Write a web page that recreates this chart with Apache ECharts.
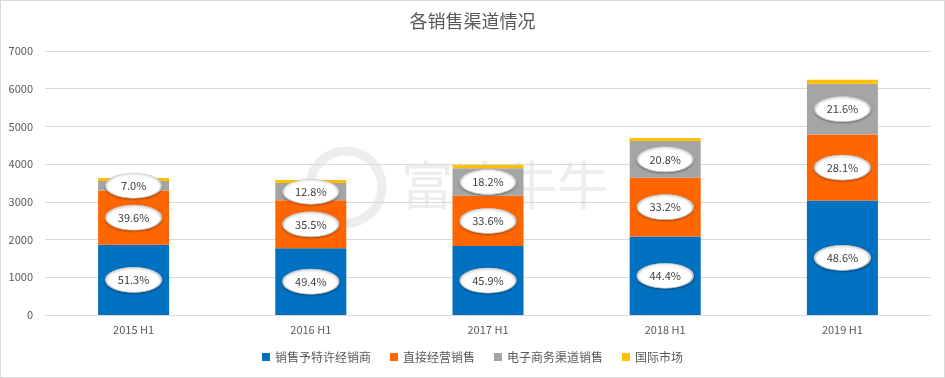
<!DOCTYPE html>
<html>
<head>
<meta charset="utf-8">
<script src="https://cdn.jsdelivr.net/npm/echarts@6/dist/echarts.min.js"></script>
<style>
  html, body { margin: 0; padding: 0; background: #fff; }
  #chart { width: 943px; height: 376px; border: 1px solid #d9d9d9; }
</style>
</head>
<body>
<div id="chart"></div>
<script>
// 数据
var categories = ['2015 H1', '2016 H1', '2017 H1', '2018 H1', '2019 H1'];
var seriesNames = ['销售予特许经销商', '直接经营销售', '电子商务渠道销售', '国际市场'];
var dealer = [1863, 1769, 1827, 2082, 3033];
var direct = [1438, 1271, 1337, 1557, 1753];
var ecommerce = [254, 458, 724, 976, 1348];
var intl = [77, 82, 92, 75, 106];
var dealerPct = ['51.3%', '49.4%', '45.9%', '44.4%', '48.6%'];
var directPct = ['39.6%', '35.5%', '33.6%', '33.2%', '28.1%'];
var ecomPct = ['7.0%', '12.8%', '18.2%', '20.8%', '21.6%'];
var yTicks = [0, 1000, 2000, 3000, 4000, 5000, 6000, 7000];

var colors = ['#0070C0', '#FF6600', '#A5A5A5', '#FFC000'];
var font = '"Noto Sans CJK SC", "Noto Sans", sans-serif';

// 椭圆标签放在每段的中间
var callouts = [];
for (var i = 0; i < categories.length; i++) {
  var a = dealer[i], b = direct[i], c = ecommerce[i];
  callouts.push({ value: [i, a / 2], pct: dealerPct[i] });
  callouts.push({ value: [i, a + b / 2], pct: directPct[i] });
  callouts.push({ value: [i, a + b + c / 2], pct: ecomPct[i] });
}

var chart = echarts.init(document.getElementById('chart'));
var option = {
  animation: false,
  color: colors,
  textStyle: { fontFamily: font },
  title: {
    text: '各销售渠道情况',
    left: 'center',
    top: 6,
    textStyle: { fontSize: 18, fontWeight: 'normal', color: '#595959', fontFamily: font }
  },
  graphic: [
    { type: 'circle', shape: { cx: 345, cy: 186, r: 36 }, style: { fill: 'none', stroke: '#ededed', lineWidth: 9 }, z: 0, silent: true },
    { type: 'text', left: 400, top: 158, style: { text: '富途牛牛', font: '52px "Noto Sans CJK SC"', fill: '#ededed' }, z: 0, silent: true }
  ],
  legend: {
    data: seriesNames,
    bottom: 9,
    left: 'center',
    icon: 'rect',
    itemWidth: 8,
    itemHeight: 8,
    itemGap: 19,
    textStyle: { fontSize: 12, color: '#595959' }
  },
  grid: { left: 44, right: 13, top: 50, bottom: 62 },
  xAxis: {
    type: 'category',
    data: categories,
    axisLine: { lineStyle: { color: '#d9d9d9' } },
    axisTick: { show: false },
    axisLabel: { color: '#595959', fontSize: 11, margin: 9 }
  },
  yAxis: {
    type: 'value',
    min: yTicks[0],
    max: yTicks[yTicks.length - 1],
    interval: 1000,
    axisLine: { show: false },
    axisTick: { show: false },
    axisLabel: { color: '#595959', fontSize: 11, margin: 12, formatter: function (v) { return String(v); } },
    splitLine: { lineStyle: { color: '#d9d9d9' } }
  },
  series: [
    { name: seriesNames[0], type: 'bar', stack: 'total', barWidth: 71, data: dealer },
    { name: seriesNames[1], type: 'bar', stack: 'total', data: direct },
    { name: seriesNames[2], type: 'bar', stack: 'total', data: ecommerce },
    { name: seriesNames[3], type: 'bar', stack: 'total', data: intl },
    {
      name: 'pct',
      type: 'scatter',
      symbol: 'circle',
      symbolSize: [56, 25],
      z: 5,
      data: callouts,
      itemStyle: {
        color: '#ffffff',
        opacity: 1,
        borderColor: '#c8c8c8',
        borderWidth: 1,
        shadowColor: 'rgba(0,0,0,0.3)',
        shadowBlur: 2,
        shadowOffsetY: 1
      },
      label: {
        show: true,
        position: 'inside',
        color: '#404040',
        fontSize: 11,
        formatter: function (p) { return p.data.pct; }
      },
      emphasis: { disabled: true }
    }
  ]
};
chart.setOption(option);
</script>
</body>
</html>
